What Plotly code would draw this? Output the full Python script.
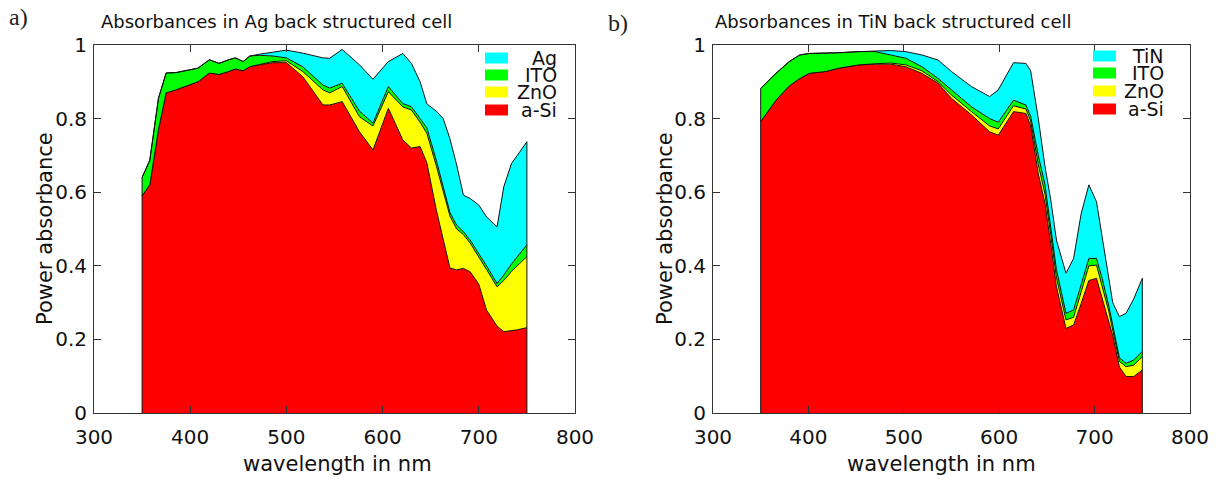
import plotly.graph_objects as go

# ---------------- data: panel a (Ag back structured cell) ----------------
wl_a = [350, 358, 367, 375, 385, 400, 408, 420, 430, 440, 447, 455, 462, 472, 486,
        500, 517, 538, 545, 558, 576, 590, 606, 621, 630, 639, 646, 656, 663, 670,
        677, 684, 691, 700, 708, 719, 726, 734, 740, 750]
asi_a = [0.59, 0.62, 0.77, 0.87, 0.878, 0.893, 0.90, 0.924, 0.92, 0.928, 0.935, 0.93, 0.941, 0.946, 0.952,
         0.952, 0.914, 0.837, 0.837, 0.846, 0.764, 0.715, 0.828, 0.742, 0.72, 0.724, 0.68, 0.55, 0.47, 0.394,
         0.389, 0.393, 0.384, 0.35, 0.28, 0.236, 0.221, 0.224, 0.226, 0.232]
zno_a = [0, 0, 0, 0, 0, 0, 0, 0, 0, 0, 0, 0, 0, 0.001, 0.003,
         0.005, 0.014, 0.041, 0.033, 0.041, 0.041, 0.065, 0.045, 0.09, 0.103, 0.066, 0.08, 0.12, 0.13, 0.141,
         0.111, 0.092, 0.078, 0.075, 0.11, 0.107, 0.139, 0.161, 0.174, 0.193]
ito_a = [0.05, 0.067, 0.085, 0.054, 0.047, 0.041, 0.037, 0.036, 0.03, 0.032, 0.03, 0.025, 0.029, 0.025, 0.015,
         0.008, 0.013, 0.013, 0.013, 0.009, 0.015, 0.008, 0.014, 0.009, 0.009, 0.01, 0.015, 0.015, 0.015, 0.01,
         0.01, 0.008, 0.008, 0.009, 0.01, 0.009, 0.015, 0.02, 0.025, 0.032]
ag_a = [0, 0, 0, 0, 0, 0, 0, 0, 0, 0, 0, 0, 0, 0.003, 0.01,
        0.021, 0.037, 0.074, 0.081, 0.092, 0.126, 0.119, 0.068, 0.136, 0.118, 0.10, 0.065, 0.135, 0.185, 0.20,
        0.164, 0.099, 0.113, 0.131, 0.133, 0.154, 0.24, 0.273, 0.275, 0.28]

# ---------------- data: panel b (TiN back structured cell) ----------------
wl_b = [350, 366, 380, 391, 401, 418, 432, 453, 470, 486, 502, 519, 536, 550, 571,
        590, 599, 615, 628, 633, 641, 648, 654, 660, 670, 678, 686, 694, 702, 708,
        715, 719, 726, 733, 741, 750]
asi_b = [0.792, 0.85, 0.889, 0.909, 0.923, 0.928, 0.937, 0.946, 0.948, 0.948, 0.941, 0.923, 0.896, 0.855, 0.81,
         0.764, 0.755, 0.819, 0.814, 0.78, 0.65, 0.57, 0.46, 0.343, 0.23, 0.239, 0.298, 0.36, 0.366, 0.31,
         0.25, 0.21, 0.125, 0.099, 0.099, 0.117]
zno_b = [0, 0, 0, 0, 0, 0, 0, 0, 0.001, 0.003, 0.005, 0.007, 0.004, 0.009, 0.009,
         0.016, 0.017, 0.016, 0.012, 0.013, 0.025, 0.025, 0.025, 0.025, 0.023, 0.021, 0.032, 0.04, 0.036, 0.035,
         0.025, 0.015, 0.015, 0.027, 0.031, 0.036]
ito_b = [0.09, 0.073, 0.066, 0.064, 0.054, 0.049, 0.042, 0.036, 0.033, 0.022, 0.018, 0.011, 0.009, 0.014, 0.013,
         0.02, 0.018, 0.015, 0.011, 0.013, 0.025, 0.025, 0.025, 0.022, 0.018, 0.02, 0.02, 0.02, 0.018, 0.02,
         0.015, 0.015, 0.01, 0.009, 0.014, 0.014]
tin_b = [0, 0, 0, 0, 0, 0, 0, 0, 0.002, 0.012, 0.018, 0.032, 0.05, 0.05, 0.055,
         0.06, 0.088, 0.102, 0.113, 0.124, 0.10, 0.05, 0.07, 0.08, 0.109, 0.14, 0.193, 0.20, 0.154, 0.114,
         0.071, 0.06, 0.112, 0.136, 0.166, 0.199]

x_ticks = [300, 400, 500, 600, 700, 800]
y_ticks = [0, 0.2, 0.4, 0.6, 0.8, 1]
titles = ["Absorbances in Ag back structured cell", "Absorbances in TiN back structured cell"]
x_label = "wavelength in nm"
y_label = "Power absorbance"

# ---------------- style ----------------
RED, YELLOW, GREEN, CYAN = "#ff0000", "#ffff00", "#00ff00", "#00ffff"
FONT = "DejaVu Sans"
W, H = 1227, 479

panels = [
    dict(wl=wl_a, layers=[("a-Si", asi_a, RED), ("ZnO", zno_a, YELLOW), ("ITO", ito_a, GREEN), ("Ag", ag_a, CYAN)],
         xa="x", ya="y", dom=(94, 575), title_x=276, xlab_x=337, ylab_x=45, tag="a)", tag_x=18, tag_y=17,
         leg_sw=(485, 508), leg_txt=558, leg_rows=[58, 75, 92, 110]),
    dict(wl=wl_b, layers=[("a-Si", asi_b, RED), ("ZnO", zno_b, YELLOW), ("ITO", ito_b, GREEN), ("TiN", tin_b, CYAN)],
         xa="x2", ya="y2", dom=(713, 1190), title_x=893, xlab_x=941, ylab_x=665, tag="b)", tag_x=618, tag_y=23,
         leg_sw=(1093, 1116), leg_txt=1165, leg_rows=[56, 73, 91, 109]),
]

PLOT_TOP, PLOT_BOT = 45, 413

fig = go.Figure()
shapes, annotations = [], []

for k, p in enumerate(panels):
    sg = "stack%d" % k
    for name, vals, color in p["layers"]:
        fig.add_trace(go.Scatter(
            x=p["wl"], y=vals, stackgroup=sg, mode="lines",
            line=dict(color="#111111", width=1), fillcolor=color,
            xaxis=p["xa"], yaxis=p["ya"], showlegend=False, name=name, hoverinfo="skip"))
    total = [sum(v) for v in zip(*[l[1] for l in p["layers"]])]
    wl = p["wl"]
    fig.add_trace(go.Scatter(
        x=[wl[0], wl[0], None, wl[-1], wl[-1]], y=[0, total[0], None, 0, total[-1]],
        mode="lines", line=dict(color="#111111", width=1),
        xaxis=p["xa"], yaxis=p["ya"], showlegend=False, hoverinfo="skip"))

    x0, x1 = p["dom"]
    span = x1 - x0
    ph = PLOT_BOT - PLOT_TOP
    xr = "x domain" if p["xa"] == "x" else "x2 domain"
    yr = "y domain" if p["ya"] == "y" else "y2 domain"
    # legend (top to bottom: metal, ITO, ZnO, a-Si)
    for row, (name, vals, color) in zip(p["leg_rows"], list(reversed(p["layers"]))):
        yc = (PLOT_BOT - row) / ph
        shapes.append(dict(type="rect", xref=xr, yref=yr,
                           x0=(p["leg_sw"][0] - x0) / span, x1=(p["leg_sw"][1] - x0) / span,
                           y0=yc - 5.5 / ph, y1=yc + 5.5 / ph,
                           fillcolor=color, line=dict(width=0), layer="above"))
        annotations.append(dict(text=name, xref=xr, yref=yr, x=(p["leg_txt"] - x0) / span, y=yc,
                                xanchor="right", yanchor="middle", showarrow=False, borderpad=0,
                                font=dict(family=FONT, size=19, color="#111111")))
    # title
    annotations.append(dict(text=titles[k], xref="paper", yref="paper", x=p["title_x"] / W, y=1 - 22 / H,
                            xanchor="center", yanchor="middle", showarrow=False,
                            font=dict(family=FONT, size=18, color="#111111")))
    # axis labels
    annotations.append(dict(text=x_label, xref="paper", yref="paper", x=p["xlab_x"] / W, y=1 - 464 / H,
                            xanchor="center", yanchor="middle", showarrow=False,
                            font=dict(family=FONT, size=21, color="#111111")))
    annotations.append(dict(text=y_label, xref="paper", yref="paper", x=p["ylab_x"] / W, y=1 - 229 / H,
                            xanchor="center", yanchor="middle", showarrow=False, textangle=-90,
                            font=dict(family=FONT, size=21, color="#111111")))
    # panel tag
    annotations.append(dict(text=p["tag"], xref="paper", yref="paper", x=p["tag_x"] / W, y=1 - p["tag_y"] / H,
                            xanchor="center", yanchor="middle", showarrow=False,
                            font=dict(family="Liberation Serif", size=24, color="#222222")))

axis_common = dict(showline=True, linecolor="#333333", linewidth=1, mirror="ticks", ticks="inside",
                   ticklen=7, tickcolor="#333333", showgrid=False, zeroline=False, automargin=False,
                   tickfont=dict(family=FONT, size=20, color="#111111"))

yd = [1 - PLOT_BOT / H, 1 - PLOT_TOP / H]
fig.update_layout(
    width=W, height=H, margin=dict(l=0, r=0, t=0, b=0, pad=0, autoexpand=False),
    paper_bgcolor="white", plot_bgcolor="white", showlegend=False,
    xaxis=dict(domain=[panels[0]["dom"][0] / W, panels[0]["dom"][1] / W], range=[300, 800],
               tickvals=x_ticks, anchor="y", ticklabelstandoff=6, **axis_common),
    yaxis=dict(domain=yd, range=[0, 1], tickvals=y_ticks, anchor="x", ticklabelstandoff=2, **axis_common),
    xaxis2=dict(domain=[panels[1]["dom"][0] / W, panels[1]["dom"][1] / W], range=[300, 800],
                tickvals=x_ticks, anchor="y2", ticklabelstandoff=6, **axis_common),
    yaxis2=dict(domain=yd, range=[0, 1], tickvals=y_ticks, anchor="x2", ticklabelstandoff=2, **axis_common),
    shapes=shapes, annotations=annotations,
)

fig.write_html("out.html")
